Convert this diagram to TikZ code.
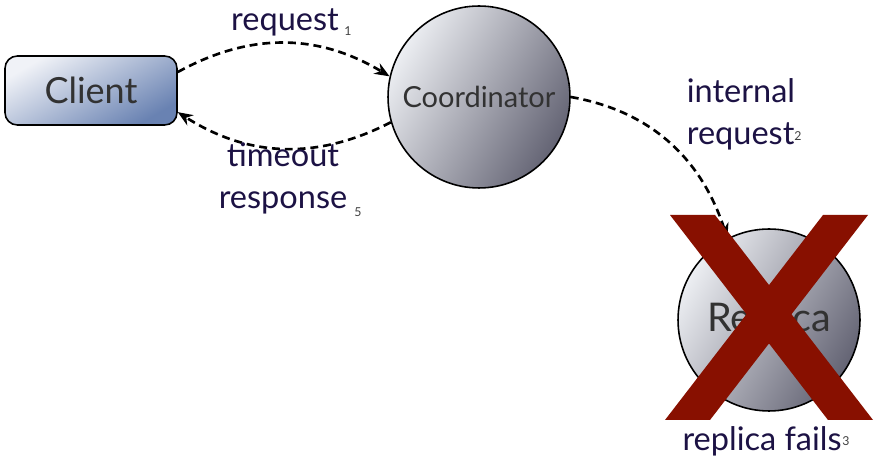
\documentclass[tikz,border=0pt]{standalone}
\usepackage{fontspec}
\setmainfont{Lato}
\usepackage{xcolor}
\usetikzlibrary{arrows.meta}
\definecolor{inkblue}{RGB}{28,18,68}
\definecolor{nodegray}{RGB}{50,50,50}
\definecolor{crossred}{RGB}{136,16,0}
\definecolor{paleblue}{RGB}{240,242,247}
\definecolor{steelblue}{RGB}{105,130,178}
\definecolor{palegray}{RGB}{236,238,242}
\definecolor{darkgray}{RGB}{100,100,116}

\begin{document}
\begin{tikzpicture}[x=0.02cm, y=-0.02cm,
  >={Stealth[length=3mm, width=2.4mm]},
  box/.style={draw=black, line width=0.9pt, rounded corners=7pt, minimum width=3.44cm,
    minimum height=1.38cm, left color=paleblue, right color=steelblue, shading angle=30,
    text=nodegray, font=\fontsize{20.5}{24}\selectfont},
  ball/.style={circle, draw=black, line width=0.9pt, minimum size=3.64cm, inner sep=0pt,
    left color=palegray, right color=darkgray, shading angle=60, text=nodegray},
  flow/.style={->, dashed, line width=1.5pt, dash pattern=on 4.5pt off 2.8pt},
  lbl/.style={text=inkblue, font=\fontsize{18.5}{24}\selectfont, inner sep=0pt},
  idx/.style={text=black!75, font=\fontsize{7}{8}\selectfont, inner sep=0pt}
]
\useasboundingbox (0,0) rectangle (882,465);

% nodes
\node[box] (client) at (91,90.5) {Client};
\node[ball, font=\fontsize{16.5}{19}\selectfont] (coord) at (479,97) {Coordinator};
\node[ball, font=\fontsize{22.5}{26}\selectfont] (replica) at (769,320) {Replica};

% messages
\draw[flow] (client.12) to[bend left=30] (coord.167);
\draw[flow] (coord.196) to[bend left=30] (client.346);
\draw[flow] (coord.east) to[out=-10, in=108] (replica.117);

% the replica is down
\fill[crossred] (670,215) -- (715,215) -- (873,420) -- (828,420) -- cycle;
\fill[crossred] (823,215) -- (868,215) -- (710,420) -- (665,420) -- cycle;

% labels
\node[lbl] (req) at (285,22) {request};
\node[idx] at (348,31) {1};
\node[lbl, align=center] (tmo) at (283,178) {timeout\\response};
\node[idx] at (358,212) {5};
\node[lbl, align=left] (ireq) at (741,114) {internal\\request};
\node[idx] at (798,136) {2};
\node[lbl] (fail) at (762,441) {replica fails};
\node[idx] at (846,441) {3};
\end{tikzpicture}
\end{document}
